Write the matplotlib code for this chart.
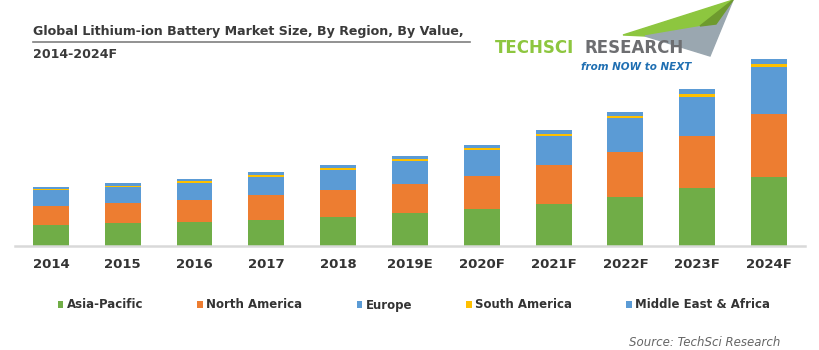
import numpy as np
import matplotlib.pyplot as plt
from matplotlib.patches import Polygon

years = ['2014', '2015', '2016', '2017', '2018', '2019E', '2020F',
         '2021F', '2022F', '2023F', '2024F']
asia_pacific = [21.0, 22.7, 24.3, 26.0, 28.7, 33.0, 37.0, 42.0, 49.3, 58.0, 69.0]
north_america = [19.3, 20.0, 22.0, 24.7, 27.0, 29.3, 33.3, 38.7, 44.7, 52.0, 62.7]
europe = [15.7, 16.3, 16.7, 18.3, 20.3, 22.7, 25.7, 29.3, 34.0, 39.5, 47.6]
south_america = [1.5, 1.5, 1.6, 2.0, 2.0, 2.0, 2.3, 2.3, 2.5, 3.0, 3.0]
mea = [1.8, 2.2, 2.4, 2.7, 3.0, 3.3, 2.7, 3.7, 3.2, 4.5, 4.4]

series = [('Asia-Pacific', asia_pacific, '#70ad47'),
          ('North America', north_america, '#ed7d31'),
          ('Europe', europe, '#5b9bd5'),
          ('South America', south_america, '#ffc000'),
          ('Middle East & Africa', mea, '#5b9bd5')]

fig = plt.figure(figsize=(8.2, 3.5), dpi=100)
ax = fig.add_axes([15 / 820, 104 / 350, 790 / 820, 196 / 350])

x = np.arange(len(years))
bottom = np.zeros(len(years))
for name, vals, col in series:
    ax.bar(x, vals, 0.5, bottom=bottom, color=col, label=name, linewidth=0)
    bottom += np.array(vals)

ax.set_xlim(-0.5, len(years) - 0.5)
ax.set_ylim(0, 196)
for s in ['top', 'right', 'left']:
    ax.spines[s].set_visible(False)
ax.spines['bottom'].set_color('#d9d9d9')
ax.spines['bottom'].set_linewidth(1.8)
ax.set_yticks([])
ax.set_xticks(x)
ax.set_xticklabels(years, fontsize=9.5, fontweight='bold', color='#333333')
ax.tick_params(axis='x', length=0, pad=9)

leg = fig.legend(loc='center', bbox_to_anchor=(414 / 820, 1 - 305 / 350), ncol=5,
                 frameon=False, handlelength=0.45, handleheight=0.6,
                 handletextpad=0.3, columnspacing=4.6,
                 prop={'weight': 'bold', 'size': 8.5})
for t in leg.get_texts():
    t.set_color('#333333')

# title
fig.text(33 / 820, 1 - 31 / 350, 'Global Lithium-ion Battery Market Size, By Region, By Value,',
         fontsize=9.1, fontweight='bold', color='#3a3a3a', va='center')
fig.text(33 / 820, 1 - 55 / 350, '2014-2024F', fontsize=9.1, fontweight='bold',
         color='#3a3a3a', va='center')
fig.add_artist(plt.Line2D([33 / 820, 470 / 820], [1 - 42 / 350, 1 - 42 / 350],
                          color='#7f7f7f', lw=1.2))

# logo
def px(p):
    return (p[0] / 820, 1 - p[1] / 350)

fig.add_artist(Polygon([px(p) for p in [(623, 35), (733, 0), (716, 24), (645, 36)]],
                       closed=True, color='#8dc63f', transform=fig.transFigure))
fig.add_artist(Polygon([px(p) for p in [(645, 36), (716, 24), (733, 0), (710, 56)]],
                       closed=True, color='#9aa7b0', transform=fig.transFigure))
fig.add_artist(Polygon([px(p) for p in [(700, 26), (733, 0), (716, 24)]],
                       closed=True, color='#6e9a2e', transform=fig.transFigure))
fig.text(495 / 820, 1 - 48 / 350, 'TECHSCI', fontsize=12, fontweight='bold',
         color='#8dc63f', va='center')
fig.text(585 / 820, 1 - 48 / 350, 'RESEARCH', fontsize=12, fontweight='bold',
         color='#6d6e71', va='center')
fig.text(691 / 820, 1 - 67 / 350, 'from NOW to NEXT', fontsize=7.5, fontstyle='italic',
         fontweight='bold', color='#1f6fb2', va='center', ha='right')

fig.text(780 / 820, 1 - 343 / 350, 'Source: TechSci Research', fontsize=8.5,
         fontstyle='italic', color='#666666', ha='right', va='center')

fig.savefig('out.png', dpi=100, facecolor='white')
